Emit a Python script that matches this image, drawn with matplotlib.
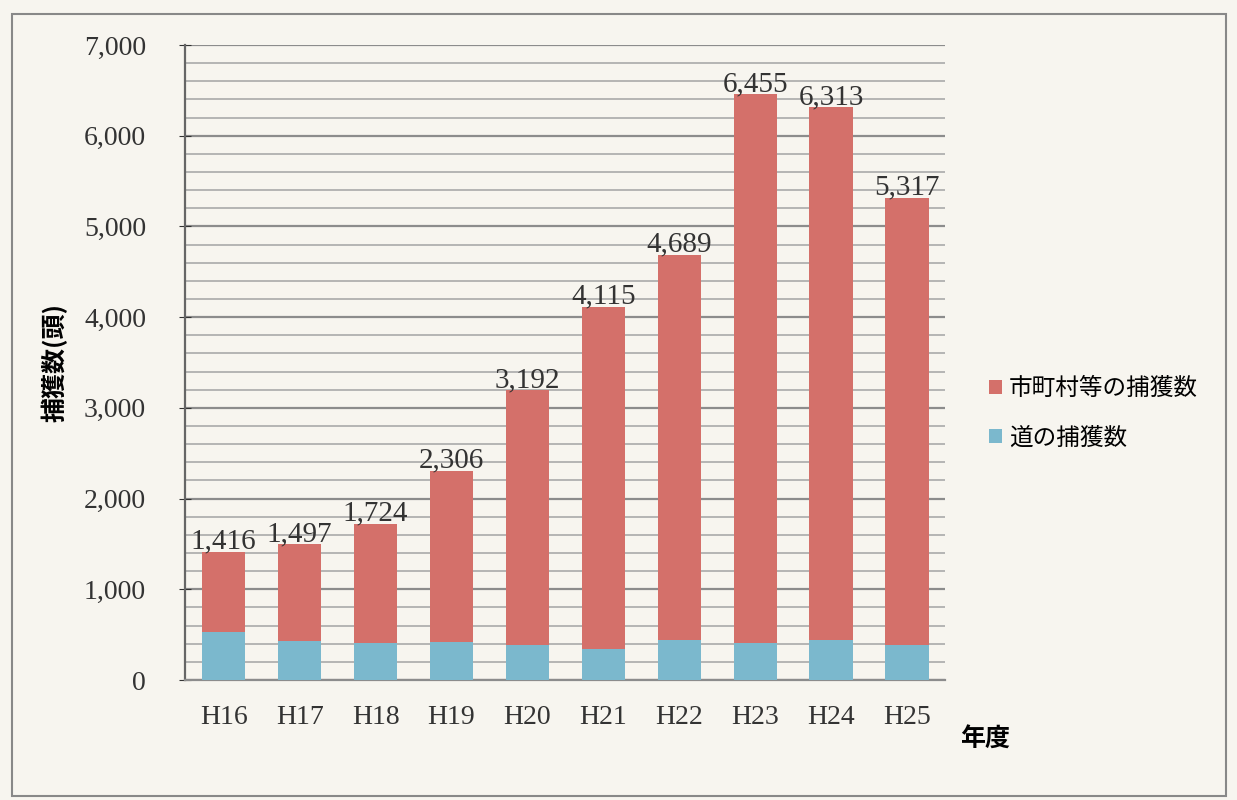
import matplotlib.pyplot as plt
import matplotlib.patches as mpatches
import numpy as np

plt.rcParams['font.family'] = ['Noto Sans CJK JP', 'DejaVu Sans']

# Data
years = ['H16', 'H17', 'H18', 'H19', 'H20', 'H21', 'H22', 'H23', 'H24', 'H25']
totals = [1416, 1497, 1724, 2306, 3192, 4115, 4689, 6455, 6313, 5317]
pref = [530, 430, 410, 415, 390, 345, 440, 410, 440, 390]   # 道の捕獲数
muni = [t - p for t, p in zip(totals, pref)]                 # 市町村等の捕獲数

red = '#d4706a'
blue = '#7bb8cd'
bg = '#f7f5ef'
serif = ['Liberation Serif', 'DejaVu Serif']

fig = plt.figure(figsize=(12.37, 8), dpi=100, facecolor=bg)
ax = fig.add_axes([185 / 1237, 120 / 800, 760 / 1237, 635 / 800])
ax.set_facecolor(bg)

# outer frame of the figure
fig.patches.append(mpatches.Rectangle((12 / 1237, 4 / 800), 1214 / 1237, 782 / 800,
                                      transform=fig.transFigure, fill=False,
                                      edgecolor='#888888', linewidth=1.5))

x = np.arange(len(years))
w = 0.57
ax.bar(x, pref, w, color=blue, label='道の捕獲数', zorder=3)
ax.bar(x, muni, w, bottom=pref, color=red, label='市町村等の捕獲数', zorder=3)

for xi, t in zip(x, totals):
    ax.text(xi, t - 30, f'{t:,}', ha='center', va='bottom', fontsize=21,
            family=serif, color='#333333', zorder=4)

ax.set_xlim(-0.51, len(years) - 0.5)
ax.set_ylim(0, 7000)
ax.set_yticks(np.arange(0, 7001, 1000))
ax.set_yticklabels([f'{v:,}' for v in range(0, 7001, 1000)], family=serif, fontsize=20)
ax.set_yticks(np.arange(0, 7001, 200), minor=True)
ax.grid(axis='y', which='major', color='#8c8c8c', linewidth=1.6, zorder=0)
ax.grid(axis='y', which='minor', color='#aaaaaa', linewidth=1.2, zorder=0)
ax.tick_params(axis='y', which='major', length=8, direction='inout', pad=24, colors='#333333')
ax.tick_params(axis='y', which='minor', length=0)
ax.set_xticks(x)
ax.set_xticklabels(years, family=serif, fontsize=20)
ax.tick_params(axis='x', length=0, pad=18, colors='#333333')

for s in ['top', 'right']:
    ax.spines[s].set_visible(False)
ax.spines['left'].set_color('#666666')
ax.spines['left'].set_linewidth(1.6)
ax.spines['bottom'].set_color('#8c8c8c')
ax.spines['bottom'].set_linewidth(1.6)

ax.set_ylabel('捕獲数(頭)', fontsize=18, fontweight='bold', labelpad=12)
fig.text(985 / 1237, 60 / 800, '年度', fontsize=18, fontweight='bold', ha='center', va='center')

handles, labels = ax.get_legend_handles_labels()
ax.legend(handles[::-1], labels[::-1], loc='center left', bbox_to_anchor=(1.03, 0.42),
          frameon=False, fontsize=17, handlelength=0.55, handleheight=0.55,
          handletextpad=0.3, labelspacing=1.1)

fig.savefig('out.png', dpi=100, facecolor=bg)
